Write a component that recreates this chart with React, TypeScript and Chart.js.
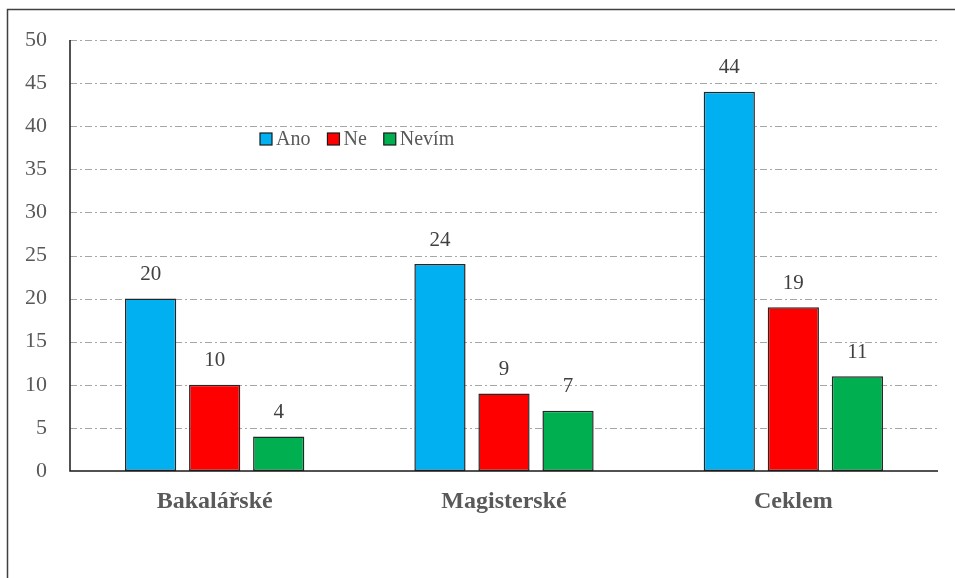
import React, { useEffect, useRef } from "react";
import { Chart, registerables } from "chart.js";

Chart.register(...registerables);

const categories = ["Bakalářské", "Magisterské", "Ceklem"];
const seriesNames = ["Ano", "Ne", "Nevím"];
const ano = [20, 24, 44];
const ne = [10, 9, 19];
const nevim = [4, 7, 11];
const seriesColors = ["#00B0F0", "#FF0000", "#00B050"];
const yTicks = [0, 5, 10, 15, 20, 25, 30, 35, 40, 45, 50];

const SERIF = "'Liberation Serif', 'Times New Roman', serif";

const decorPlugin = {
  id: "decor",
  beforeDatasetsDraw(chart: any) {
    const { ctx, chartArea, scales } = chart;
    const y = scales.y;
    ctx.save();
    // frame
    ctx.strokeStyle = "#404040";
    ctx.lineWidth = 1.5;
    ctx.beginPath();
    ctx.moveTo(7.5, 578);
    ctx.lineTo(7.5, 9.5);
    ctx.lineTo(955, 9.5);
    ctx.stroke();
    // grid
    ctx.strokeStyle = "#A6A6A6";
    ctx.lineWidth = 1;
    ctx.setLineDash([7, 3, 2, 3]);
    yTicks.forEach((v) => {
      if (v === 0) return;
      const py = Math.round(y.getPixelForValue(v)) + 0.5;
      ctx.beginPath();
      ctx.moveTo(chartArea.left, py);
      ctx.lineTo(chartArea.right, py);
      ctx.stroke();
    });
    ctx.restore();
  },
  afterDatasetsDraw(chart: any) {
    const { ctx, chartArea, scales } = chart;
    const y = scales.y;
    ctx.save();
    // axes
    ctx.strokeStyle = "#1a1a1a";
    ctx.lineWidth = 1.5;
    ctx.setLineDash([]);
    const y0 = Math.round(y.getPixelForValue(0));
    ctx.beginPath();
    ctx.moveTo(chartArea.left, y.getPixelForValue(50));
    ctx.lineTo(chartArea.left, y0);
    ctx.lineTo(chartArea.right, y0);
    ctx.stroke();
    // data labels
    ctx.font = `21px ${SERIF}`;
    ctx.fillStyle = "#404040";
    ctx.textAlign = "center";
    ctx.textBaseline = "middle";
    chart.data.datasets.forEach((ds: any, di: number) => {
      const meta = chart.getDatasetMeta(di);
      meta.data.forEach((bar: any, i: number) => {
        ctx.fillText(String(ds.data[i]), bar.x, bar.y - 24);
      });
    });
    // legend
    let lx = 260;
    const ly = 139;
    ctx.font = `20px ${SERIF}`;
    ctx.textAlign = "left";
    seriesNames.forEach((name, i) => {
      ctx.fillStyle = seriesColors[i];
      ctx.fillRect(lx, ly - 6, 12, 12);
      ctx.strokeStyle = "#1a1a1a";
      ctx.lineWidth = 1.2;
      ctx.strokeRect(lx, ly - 6, 12, 12);
      ctx.fillStyle = "#595959";
      ctx.fillText(name, lx + 16, ly + 1);
      const w = ctx.measureText(name).width;
      lx += 16 + w + 17;
    });
    ctx.restore();
  },
};

export default function App() {
  const ref = useRef<HTMLCanvasElement>(null);
  useEffect(() => {
    if (!ref.current) return;
    const datasets = [ano, ne, nevim].map((d, i) => ({
      label: seriesNames[i],
      data: d,
      backgroundColor: seriesColors[i],
      borderColor: "#262626",
      borderWidth: 1.5,
      borderSkipped: false,
      categoryPercentage: 0.664,
      barPercentage: 0.8,
    }));
    const chart = new Chart(ref.current, {
      type: "bar",
      data: { labels: categories, datasets },
      plugins: [decorPlugin],
      options: {
        animation: false,
        responsive: false,
        maintainAspectRatio: false,
        layout: { padding: { top: 40, right: 17, left: 0, bottom: 0 } },
        plugins: { legend: { display: false }, tooltip: { enabled: false } },
        scales: {
          x: {
            grid: { display: false, drawTicks: false },
            border: { display: false },
            ticks: {
              padding: 16,
              color: "#595959",
              font: { family: SERIF, size: 24, weight: "bold" },
            },
            afterFit: (s: any) => {
              s.height = 107;
            },
          },
          y: {
            min: 0,
            max: 50,
            grid: { display: false, drawTicks: false },
            border: { display: false },
            ticks: {
              stepSize: 5,
              padding: 23,
              color: "#595959",
              font: { family: SERIF, size: 22 },
            },
            afterFit: (s: any) => {
              s.width = 70;
            },
          },
        },
      },
    });
    return () => chart.destroy();
  }, []);
  return (
    <div style={{ position: "fixed", left: 0, top: 0, width: 955, height: 578, background: "#fff" }}>
      <canvas ref={ref} width={955} height={578} style={{ display: "block" }} />
    </div>
  );
}
